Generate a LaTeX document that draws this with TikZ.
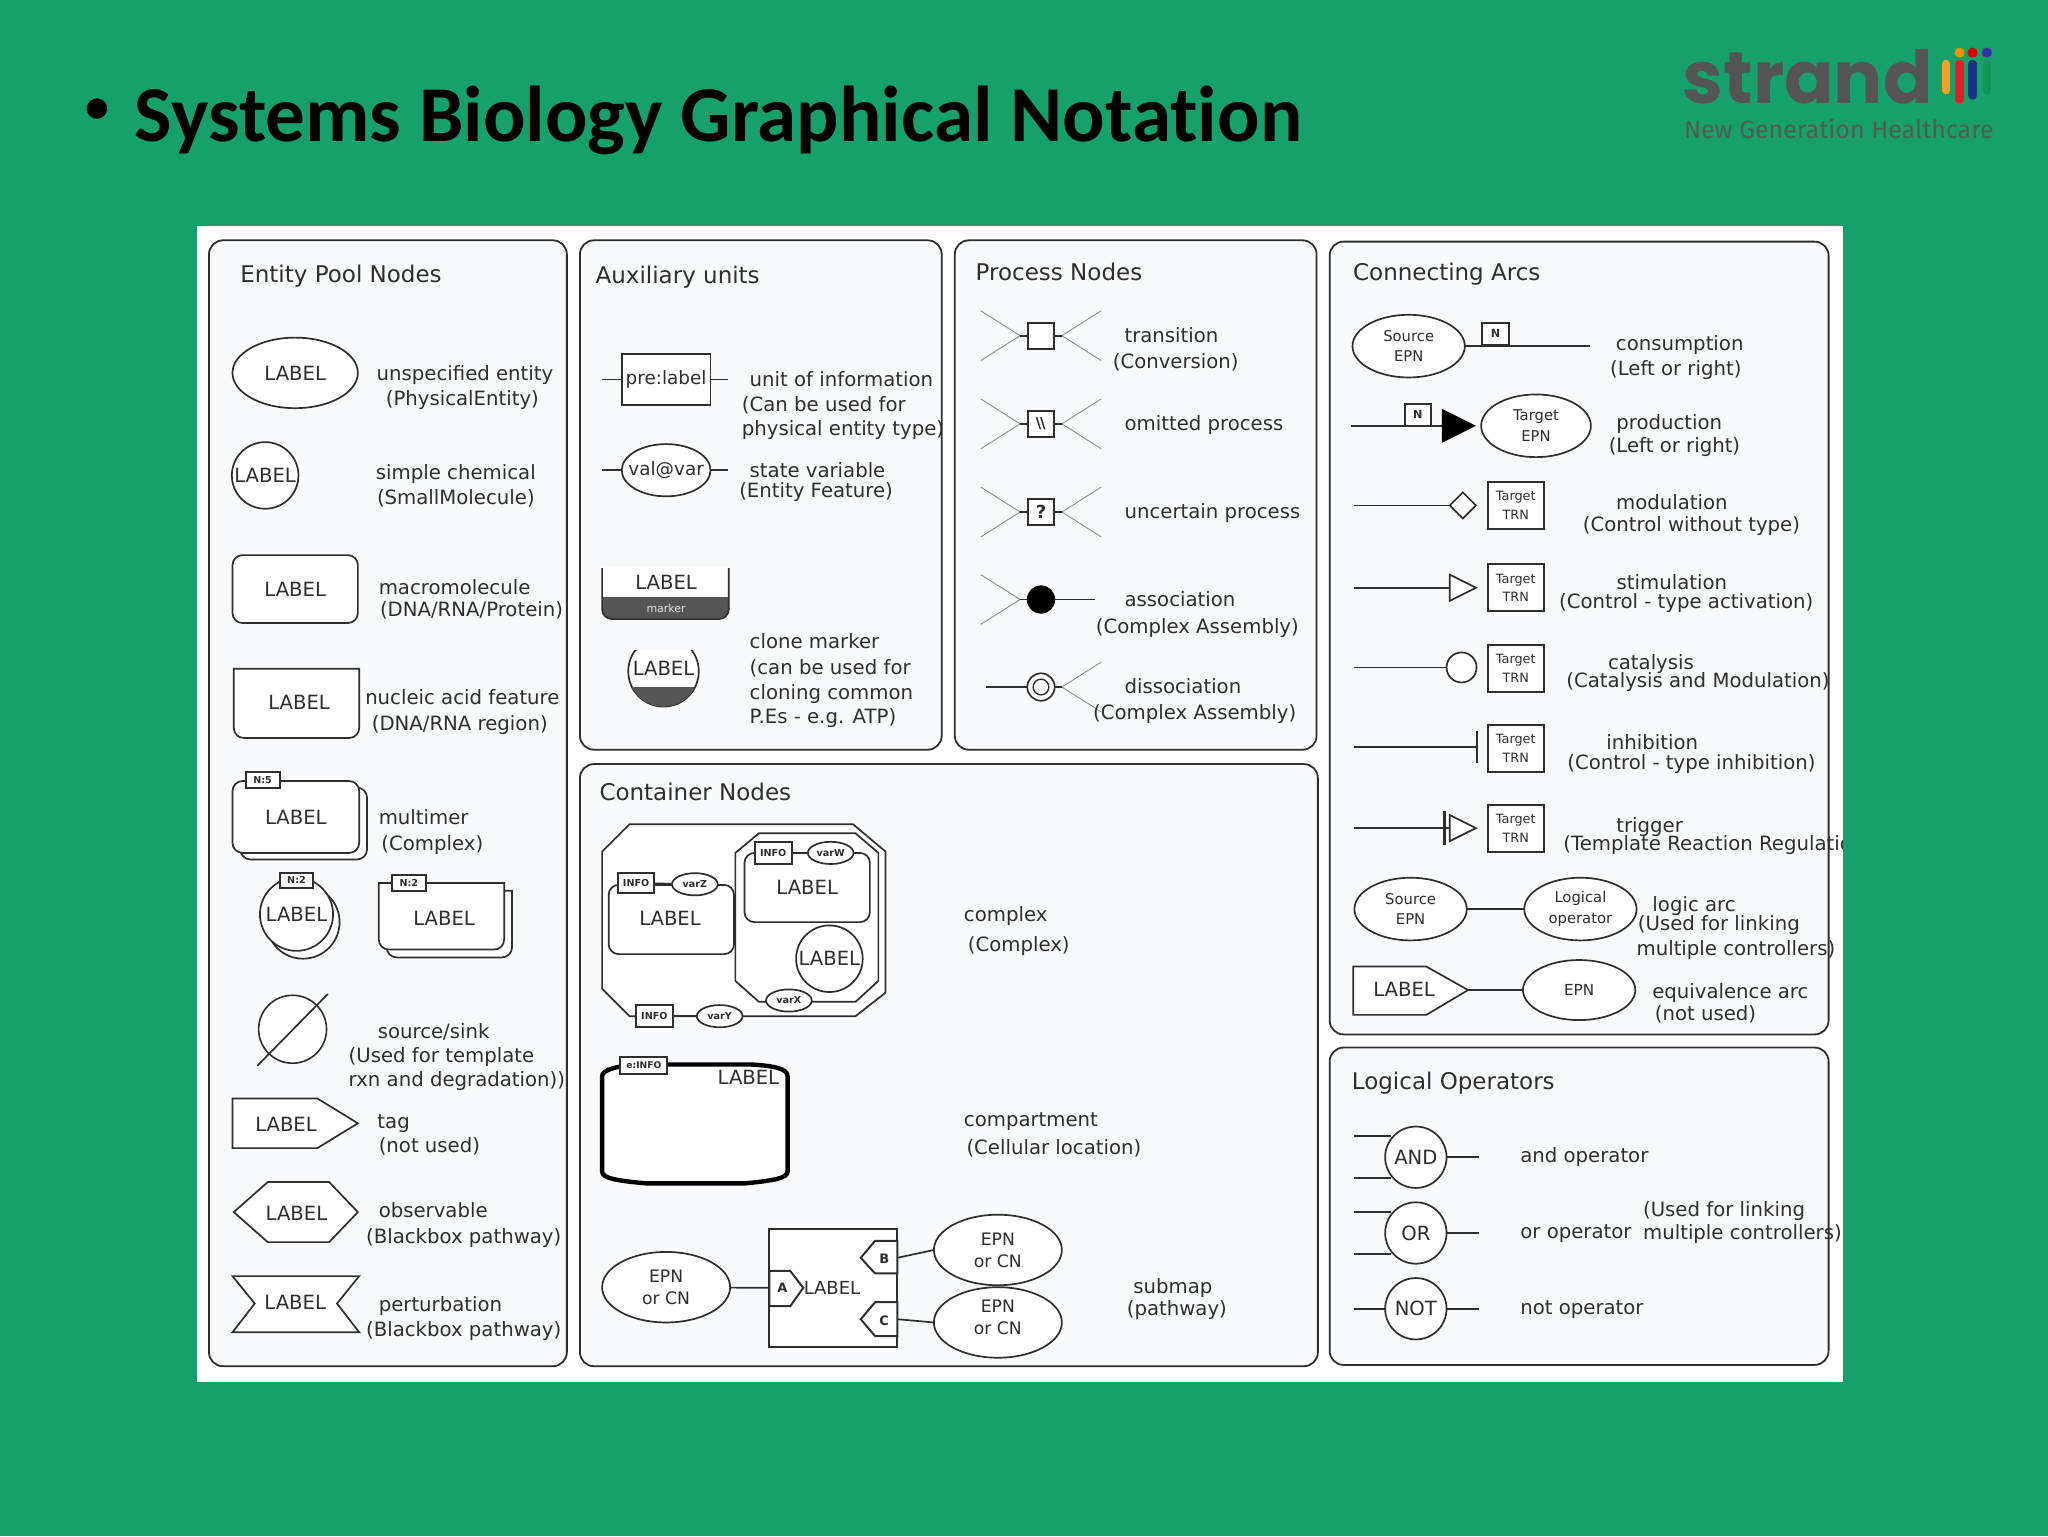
\documentclass[tikz,border=0pt]{standalone}
\usepackage{fontspec}
\usetikzlibrary{shapes.geometric}
\setmainfont{DejaVu Sans}
\newfontfamily\carlitofont{Carlito}[Ligatures=NoCommon]
\newfontfamily\popfont{Poppins}
\newfontfamily\firafont{Fira Sans}
\newlength\uu \setlength\uu{0.65306pt}
\definecolor{bggreen}{HTML}{16A06A}
\definecolor{panelfill}{HTML}{F9FAFC}
\definecolor{ink}{HTML}{2E2E2E}
\definecolor{darkfill}{HTML}{555555}
\definecolor{thincol}{HTML}{8C8C8C}
\tikzset{
  panel/.style={draw=ink,line width=0.9pt,fill=panelfill,rounded corners=7pt},
  ln/.style={draw=ink,line width=0.85pt},
  shp/.style={draw=ink,line width=0.85pt,fill=white},
  thinln/.style={draw=thincol,line width=0.45pt},
  bx/.style n args={2}{minimum width=#1\uu,minimum height=#2\uu,inner sep=0pt,outer sep=0pt},
  txt/.style={inner sep=0pt,outer sep=0pt,text=ink,font=\fontsize{9.85}{11}\selectfont,text height=8.8pt,text depth=2pt},
  ttl/.style={txt,anchor=west,font=\fontsize{11.5}{13}\selectfont,text height=10.2pt,text depth=2.4pt},
  lab/.style={txt,font=\fontsize{9.8}{11}\selectfont},
  ell/.style n args={2}{ellipse,shp,bx={#1}{#2},text=ink,font=\fontsize{9.8}{11}\selectfont},
  circ/.style={circle,shp,minimum size=#1\uu,inner sep=0pt,outer sep=0pt,text=ink,font=\fontsize{9.8}{11}\selectfont},
  box/.style n args={2}{rectangle,shp,bx={#1}{#2},text=ink},
  rbox/.style n args={2}{rectangle,shp,bx={#1}{#2},rounded corners=5pt,text=ink,font=\fontsize{9.8}{11}\selectfont},
  info/.style n args={2}{rectangle,shp,line width=1pt,bx={#1}{#2},text=ink,font=\fontsize{4.8}{5}\selectfont\bfseries},
  smallell/.style={ellipse,shp,bx={35}{17},text=ink,font=\fontsize{4.8}{5}\selectfont\bfseries},
  targ/.style={rectangle,shp,line width=1pt,bx={43}{36},text=ink,align=center,font=\fontsize{6.4}{9.4}\selectfont},
  epnsm/.style={ellipse,shp,bx={86}{48},text=ink,align=center,font=\fontsize{7.4}{10.2}\selectfont},
  epnbig/.style={ellipse,shp,bx={98}{54},text=ink,align=center,font=\fontsize{8.6}{11}\selectfont},
  nbox/.style={rectangle,shp,line width=1pt,bx={20}{17},text=ink,font=\fontsize{5.6}{6}\selectfont\bfseries},
  pbox/.style={rectangle,shp,line width=1pt,bx={20}{20},text=ink,font=\fontsize{9}{10}\selectfont\bfseries},
  logic/.style={circle,shp,minimum size=47\uu,inner sep=0pt,outer sep=0pt,text=ink,font=\fontsize{9.8}{11}\selectfont},
}
\newcommand{\TL}[4]{\node[txt,anchor=west] (#1) at (#2,#3) {#4};}
\newcommand{\TC}[4]{\node[txt,anchor=center] (#1) at (#2,#3) {#4};}
\newcommand{\LL}[3]{%
  \coordinate (#1lt) at (751,#2-19);\coordinate (#1lb) at (751,#2+19);\coordinate (#1lj) at (781,#2);
  \draw[thinln] (#1lt) -- (#1lj) -- (#1lb);\draw[ln] (#1lj) -- (#3.west);}
\newcommand{\RR}[3]{%
  \coordinate (#1rt) at (843,#2-19);\coordinate (#1rb) at (843,#2+19);\coordinate (#1rj) at (813,#2);
  \draw[thinln] (#1rt) -- (#1rj) -- (#1rb);\draw[ln] (#1rj) -- (#3.east);}
\begin{document}
\begin{tikzpicture}[x=0.65306pt,y=-0.65306pt]
\useasboundingbox (0,0) rectangle (1568,1176);
\fill[bggreen] (0,0) rectangle (1568,1176);
\node[anchor=west,inner sep=0pt,font=\carlitofont\fontsize{24}{28}\selectfont\bfseries] (bullet) at (65,85) {•};
\node[anchor=west,inner sep=0pt,font=\carlitofont\fontsize{39.6}{44}\selectfont\bfseries] (title) at (103,92) {Systems Biology Graphical Notation};
% logo
\node[anchor=west,inner sep=0pt,text=darkfill,font=\popfont\fontsize{36.5}{37}\selectfont\bfseries] (strand) at (1288,59) {strand};
\node[anchor=west,inner sep=0pt,text=darkfill!90!bggreen,font=\firafont\fontsize{12.5}{14}\selectfont] (ngh) at (1289,99) {New Generation Healthcare};
\draw[line width=4.3pt,line cap=round,draw={rgb,255:red,245;green,160;blue,35}] (1489.8,49) -- (1489.8,69);
\draw[line width=4.3pt,line cap=round,draw={rgb,255:red,232;green,28;blue,44}] (1500.3,49) -- (1500.3,76);
\draw[line width=4.3pt,line cap=round,draw={rgb,255:red,20;green,55;blue,125}] (1510.2,49) -- (1510.2,73);
\draw[line width=4.3pt,line cap=round,draw={rgb,255:red,15;green,150;blue,85}] (1521.2,49) -- (1521.2,69);
\fill[orange!90!yellow] (1500.3,40.3) circle (3.9);
\fill[red!85!black] (1510.2,40.3) circle (3.9);
\fill[blue!55!black!80!white] (1521.2,40.3) circle (3.9);
% white sheet
\fill[white] (151,173) rectangle (1411,1058);
% panels
\draw[panel] (160,184) rectangle (434,1046);
\draw[panel] (444,184) rectangle (721,574);
\draw[panel] (731,184) rectangle (1008,574);
\draw[panel] (444,585) rectangle (1009,1046);
\draw[panel] (1018,185) rectangle (1400,792);
\draw[panel] (1018,802) rectangle (1400,1045);
\node[ttl] (tEntity) at (184,210) {Entity Pool Nodes};
\node[ttl] (tAux) at (456,211) {Auxiliary units};
\node[ttl] (tProc) at (747,209) {Process Nodes};
\node[ttl] (tCont) at (459,607) {Container Nodes};
\node[ttl] (tArcs) at (1036,209) {Connecting Arcs};
\node[ttl] (tLogic) at (1035,828) {Logical Operators};

% ---------- entity pool
\node[ell={96}{54}] (e1) at (226,285.5) {LABEL};
\TC{t1a}{356}{286}{unspecified entity}\TC{t1b}{354}{305}{(PhysicalEntity)}
\node[circ=51] (e2) at (203,364) {LABEL};
\TC{t2a}{349}{362}{simple chemical}\TC{t2b}{349}{381}{(SmallMolecule)}
\node[rbox={96}{52}] (e3) at (226,451) {LABEL};
\TL{t3a}{290}{450}{macromolecule}\TC{t3b}{361}{467}{(DNA/RNA/Protein)}
\draw[shp] (179,512) -- (275,512) [rounded corners=5pt] -- (275,565) -- (179,565) [sharp corners] -- cycle;
\node[lab] (e4) at (229,538) {LABEL};
\TC{t4a}{354}{534}{nucleic acid feature}\TC{t4b}{352}{554}{(DNA/RNA region)}
\node[rbox={97}{55}] (m1b) at (232.5,630.5) {};
\node[rbox={97}{55}] (m1) at (226.5,625.5) {LABEL};
\node[info={26}{12}] (m1n) at (201,597) {N:5};
\TL{t5a}{290}{626}{multimer}\TL{t5b}{292}{646}{(Complex)}
\node[circ=56] (m2b) at (232,706) {};
\node[circ=56] (m2) at (227,700) {LABEL};
\node[info={26}{12}] (m2n) at (227,674) {N:2};
\draw[shp] (296,682) -- (392,682) [rounded corners=5pt] -- (392,733) -- (296,733) [sharp corners] -- cycle;
\draw[shp] (290,676) -- (386,676) [rounded corners=5pt] -- (386,727) -- (290,727) [sharp corners] -- cycle;
\node[lab] (m3) at (340,703) {LABEL};
\node[info={26}{12}] (m3n) at (313,676) {N:2};
\node[circle,draw=ink,line width=0.8pt,fill=white,minimum size=52\uu,inner sep=0pt] (ss) at (224,788) {};
\coordinate (ssa) at (197,816);\coordinate (ssb) at (251,761);
\draw[ln] (ssa) -- (ssb);
\TC{t6a}{332}{790}{source/sink}\TL{t6b}{267}{808}{(Used for template}\TL{t6c}{267}{827}{rxn and degradation))}
\draw[shp] (178,841) -- (243,841) -- (274,860) -- (243,879) -- (178,879) -- cycle;
\node[lab] (e7) at (219,861) {LABEL};
\TL{t7a}{289}{859}{tag}\TL{t7b}{290}{877}{(not used)}
\draw[shp] (179,928) -- (205,905) -- (252,905) -- (274,928) -- (252,951) -- (205,951) -- cycle;
\node[lab] (e8) at (227,929) {LABEL};
\TL{t8a}{290}{927}{observable}\TC{t8b}{355}{947}{(Blackbox pathway)}
\draw[shp] (178,977) -- (275,977) -- (258,998) -- (275,1020) -- (178,1020) -- (195,998) -- cycle;
\node[lab] (e9) at (226,997) {LABEL};
\TL{t9a}{290}{999}{perturbation}\TC{t9b}{355}{1018}{(Blackbox pathway)}

% ---------- auxiliary units
\node[box={68}{39},font=\fontsize{9.2}{11}\selectfont] (a1) at (510,290.5) {pre:label};
\coordinate (a1l) at (461,290.5);\coordinate (a1r) at (557,290.5);
\draw[ln] (a1l) -- (a1);\draw[ln] (a1) -- (a1r);
\TL{ta1}{574}{291}{unit of information}\TL{ta2}{568}{310}{(Can be used for}\TL{ta3}{568}{328}{physical entity type)}
\node[ell={68}{40},font=\fontsize{9.2}{11}\selectfont,inner xsep=-4pt] (a2) at (510,360) {val@var};
\coordinate (a2l) at (461,360);\coordinate (a2r) at (557,360);
\draw[ln] (a2l) -- (a2);\draw[ln] (a2) -- (a2r);
\TL{tb1}{574}{360}{state variable}\TL{tb2}{566}{376}{(Entity Feature)}
\fill[darkfill,rounded corners=5pt] (461,440) -- (461,474) -- (558,474) -- (558,440) -- cycle;
\fill[white] (461,434) rectangle (558,457);
\draw[ln,rounded corners=5pt] (461,435) -- (461,474) -- (558,474) -- (558,435);
\node[lab] (a3) at (510,446) {LABEL};
\node[inner sep=0pt,text=white!85!darkfill,font=\fontsize{5.5}{6}\selectfont] (a3m) at (510,465.5) {marker};
\begin{scope}
\clip (470,498) rectangle (546,545);
\node[circ=54] (a4c) at (508,514) {};
\clip (470,526) rectangle (546,545);
\fill[darkfill] (a4c.center) circle (27);
\end{scope}
\node[lab] (a4) at (508,512) {LABEL};
\TL{tc1}{574}{491}{clone marker}\TL{tc2}{574}{511}{(can be used for}\TL{tc3}{574}{530}{cloning common}\TL{tc4}{574}{549}{P.Es - e.g. ATP)}

% ---------- process nodes
\node[pbox] (p1) at (797,257) {};
\LL{p1}{257}{p1}\RR{p1}{257}{p1}
\TL{tp1a}{861}{257}{transition}\TL{tp1b}{852}{277}{(Conversion)}
\node[pbox,font=\fontsize{7.5}{8}\selectfont\bfseries] (p2) at (797,324.5) {\kern-0.3pt\textbackslash\kern-0.6pt\textbackslash};
\LL{p2}{324.5}{p2}\RR{p2}{324.5}{p2}
\TL{tp2}{861}{324.5}{omitted process}
\node[pbox] (p3) at (797,392) {?};
\LL{p3}{392}{p3}\RR{p3}{392}{p3}
\TL{tp3}{861}{392}{uncertain process}
\node[circle,fill=black,draw=black,minimum size=21\uu,inner sep=0pt,outer sep=0pt] (p4) at (797,459) {};
\LL{p4}{459}{p4}
\coordinate (p4r) at (838,459);
\draw[ln] (p4) -- (p4r);
\TL{tp4a}{861}{459}{association}\TL{tp4b}{839}{480}{(Complex Assembly)}
\node[circle,shp,minimum size=21\uu,inner sep=0pt,outer sep=0pt] (p5) at (797,526) {};
\node[circle,draw=ink,line width=0.7pt,minimum size=12\uu,inner sep=0pt] (p5i) at (797,526) {};
\coordinate (p5l) at (755,526);
\draw[ln,line width=0.6pt] (p5l) -- (p5);
\RR{p5}{526}{p5}
\TL{tp5a}{861}{526}{dissociation}\TL{tp5b}{837}{546}{(Complex Assembly)}

% ---------- container nodes
\draw[shp] (482,631) -- (653,631) -- (678,652) -- (678,760) -- (655,778) -- (482,778) -- (461,757) -- (461,652) -- cycle;
\draw[shp] (581,638) -- (655,638) -- (672.5,653) -- (672.5,751) -- (655,767) -- (581,767) -- (563,751) -- (563,653) -- cycle;
\node[rbox={96}{53}] (c1) at (514,704) {};
\node[lab] (c1l) at (513,703) {LABEL};
\node[info={28}{16}] (c1i) at (487,676) {INFO};
\node[smallell] (c1v) at (532,677) {varZ};
\draw[ln] (c1i) -- (c1v);
\node[rbox={96}{53}] (c2) at (618,679.5) {};
\node[lab] (c2l) at (618,680) {LABEL};
\node[info={28}{17}] (c2i) at (592,653) {INFO};
\node[smallell] (c2v) at (636,653) {varW};
\draw[ln] (c2i) -- (c2v);
\node[circ=51] (c3) at (635,734) {LABEL};
\node[smallell] (c3v) at (604,766) {varX};
\node[info={28}{17}] (c4i) at (501,778) {INFO};
\node[smallell] (c4v) at (551,778) {varY};
\draw[ln] (c4i) -- (c4v);
\TL{tk1a}{738}{700}{complex}\TL{tk1b}{741}{723}{(Complex)}
\draw[draw=black,fill=white,line width=2.2pt] (461,824) .. controls (461,819) and (472,816) .. (490,815) -- (575,815) .. controls (592,816) and (603,818) .. (603,824) -- (603,897) .. controls (603,902) and (592,904) .. (570,906) -- (495,906) .. controls (472,904) and (461,902) .. (461,897) -- cycle;
\node[info={36}{13},font=\fontsize{4.6}{5}\selectfont\bfseries] (c5i) at (493,815.5) {e:INFO};
\node[lab] (c5) at (573,825) {LABEL};
\TL{tk2a}{738}{857}{compartment}\TL{tk2b}{740}{879}{(Cellular location)}
\node[box={98}{90},line width=1pt] (sm) at (638,986) {};
\node[lab,font=\fontsize{9}{11}\selectfont] (sml) at (637,986) {LABEL};
\draw[shp,line width=1pt] (589,973) -- (605,973) -- (615,986) -- (605,1000) -- (589,1000) -- cycle;
\draw[shp,line width=1pt] (687,950) -- (670,950) -- (659,963) -- (670,975) -- (687,975) -- cycle;
\draw[shp,line width=1pt] (687,997) -- (670,997) -- (659,1010) -- (670,1023) -- (687,1023) -- cycle;
\node[inner sep=0pt,text=ink,font=\fontsize{6.5}{7}\selectfont\bfseries] (sa) at (599,986) {A};
\node[inner sep=0pt,text=ink,font=\fontsize{6.5}{7}\selectfont\bfseries] (sb) at (677,964) {B};
\node[inner sep=0pt,text=ink,font=\fontsize{6.5}{7}\selectfont\bfseries] (sc) at (677,1011) {C};
\coordinate (pa) at (589,986);\coordinate (pb) at (687,963);\coordinate (pc) at (687,1010);
\node[epnbig] (ea) at (510,985.5) {EPN\\or CN};
\node[epnbig] (eb) at (764,957) {EPN\\or CN};
\node[epnbig] (ec) at (764,1012.5) {};
\node[inner sep=0pt,text=ink,align=center,font=\fontsize{8.6}{11}\selectfont] (ect) at (764,1008.5) {EPN\\or CN};
\draw[ln] (ea) -- (pa);
\draw[ln] (pb) -- (eb.west);
\draw[ln] (pc) -- (ec.west);
\TC{tk3a}{898}{985}{submap}\TC{tk3b}{901}{1002}{(pathway)}

% ---------- connecting arcs
\node[epnsm] (r1) at (1078.5,265) {Source\\EPN};
\coordinate (r1e) at (1217,265);
\draw[ln,line width=1pt] (r1) -- (r1e);
\node[nbox] (r1n) at (1145,255.5) {N};
\TC{ts1a}{1286}{263}{consumption}\TC{ts1b}{1283}{282}{(Left or right)}
\coordinate (r2s) at (1034,326);\coordinate (r2h) at (1105,326);
\draw[ln,line width=1pt] (r2s) -- (r2h);
\node[nbox] (r2n) at (1085.5,317.5) {N};
\fill[black] (1104,313) -- (1130,326) -- (1104,339) -- cycle;
\node[epnsm,minimum width=84\uu] (r2) at (1176,326) {Target\\EPN};
\TC{ts2a}{1278}{324}{production}\TC{ts2b}{1282}{341}{(Left or right)}
\coordinate (r3s) at (1037,387);\coordinate (r3e) at (1110,387);
\draw[ln] (r3s) -- (r3e);
\draw[shp] (1110,387) -- (1120,377) -- (1130,387) -- (1120,397) -- cycle;
\node[targ] (t3) at (1160.5,387) {Target\\TRN};
\TC{ts3a}{1280}{385}{modulation}\TC{ts3b}{1295}{402}{(Control without type)}
\coordinate (r4s) at (1037,450);\coordinate (r4e) at (1110,450);
\draw[ln] (r4s) -- (r4e);
\draw[shp] (1110,440) -- (1130,450) -- (1110,460) -- cycle;
\node[targ] (t4) at (1160.5,450) {Target\\TRN};
\TC{ts4a}{1280}{446}{stimulation}\TC{ts4b}{1291}{461}{(Control - type activation)}
\coordinate (r5s) at (1037,511);
\node[circle,shp,minimum size=23\uu,inner sep=0pt,outer sep=0pt] (r5c) at (1119,511) {};
\draw[ln] (r5s) -- (r5c);
\node[targ] (t5) at (1160.5,511.5) {Target\\TRN};
\TC{ts5a}{1264}{507}{catalysis}\TC{ts5b}{1300}{521}{(Catalysis and Modulation)}
\coordinate (r6s) at (1037,572);\coordinate (r6e) at (1131,572);\coordinate (r6t) at (1131,560);\coordinate (r6b) at (1131,584);
\draw[ln] (r6s) -- (r6e);\draw[ln] (r6t) -- (r6b);
\node[targ] (t6) at (1160.5,573) {Target\\TRN};
\TC{ts6a}{1265}{569}{inhibition}\TC{ts6b}{1295}{584}{(Control - type inhibition)}
\coordinate (r7s) at (1037,634);\coordinate (r7e) at (1110,634);\coordinate (r7t) at (1106,621);\coordinate (r7b) at (1106,647);
\draw[ln] (r7s) -- (r7e);\draw[ln,line width=1.4pt] (r7t) -- (r7b);
\draw[shp] (1110,624) -- (1130,634) -- (1110,644) -- cycle;
\node[targ] (t7) at (1160.5,634) {Target\\TRN};
\TC{ts7a}{1263}{632}{trigger}
\begin{scope}
\clip (151,173) rectangle (1411,1058);
\TL{ts7b}{1197}{646}{(Template Reaction Regulation)}
\end{scope}
\node[epnsm] (r8a) at (1080,696) {Source\\EPN};
\node[epnsm] (r8b) at (1210,696) {Logical\\operator};
\draw[ln] (r8a) -- (r8b);
\TC{ts8a}{1297}{693}{logic arc}\TL{ts8b}{1254}{707}{(Used for linking}\TL{ts8c}{1253}{726}{multiple controllers)}
\draw[shp] (1036,740) -- (1092,740) -- (1124,758) -- (1092,777) -- (1036,777) -- cycle;
\coordinate (r9t) at (1124,758);
\node[lab] (r9l) at (1075,758) {LABEL};
\node[ellipse,shp,bx={86}{46},text=ink,font=\fontsize{7.6}{9}\selectfont] (r9b) at (1209,758) {EPN};
\draw[ln] (r9t) -- (r9b);
\TL{ts9a}{1265}{759}{equivalence arc}\TL{ts9b}{1267}{776}{(not used)}

% ---------- logical operators
\node[logic] (l1) at (1084,886) {AND};
\coordinate (l1a) at (1037,870);\coordinate (l1aj) at (1065,870);\coordinate (l1b) at (1037,902);\coordinate (l1bj) at (1065,902);\coordinate (l1c) at (1132,886);
\draw[ln] (l1a) -- (l1aj);\draw[ln] (l1b) -- (l1bj);\draw[ln] (l1) -- (l1c);
\TL{tl1}{1164}{885}{and operator}
\node[logic] (l2) at (1084,944) {OR};
\coordinate (l2a) at (1037,928);\coordinate (l2aj) at (1065,928);\coordinate (l2b) at (1037,960);\coordinate (l2bj) at (1065,960);\coordinate (l2c) at (1132,944);
\draw[ln] (l2a) -- (l2aj);\draw[ln] (l2b) -- (l2bj);\draw[ln] (l2) -- (l2c);
\TL{tl2}{1164}{943}{or operator}
\node[logic] (l3) at (1084,1002) {NOT};
\coordinate (l3a) at (1037,1002);\coordinate (l3c) at (1132,1002);
\draw[ln] (l3a) -- (l3);\draw[ln] (l3) -- (l3c);
\TL{tl3}{1164}{1001}{not operator}
\TL{tl4}{1258}{926}{(Used for linking}\TL{tl5}{1258}{944}{multiple controllers)}
\end{tikzpicture}
\end{document}
